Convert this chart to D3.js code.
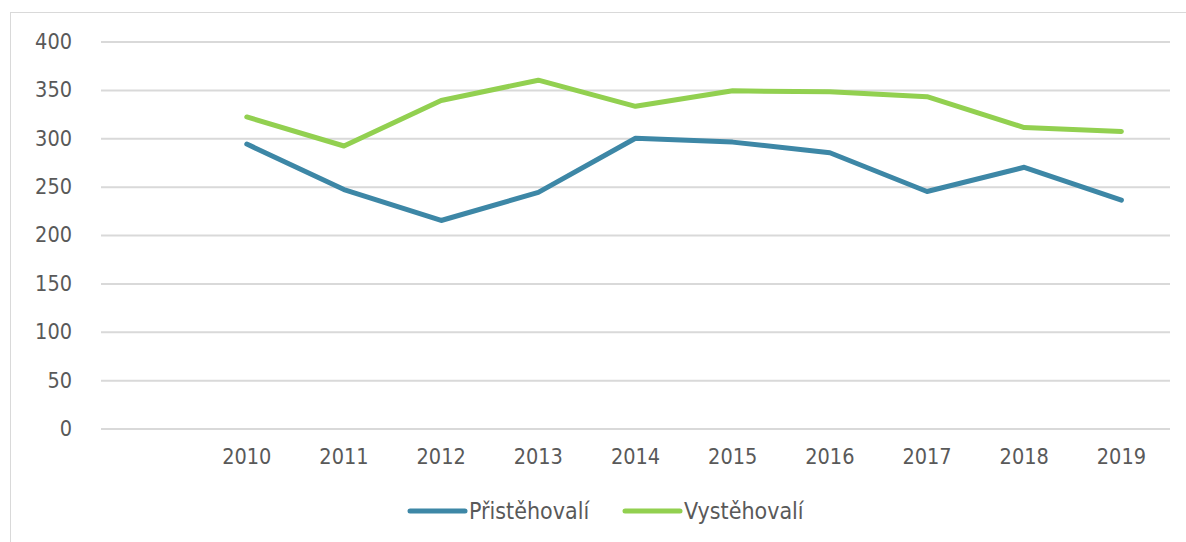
<!DOCTYPE html>
<html>
<head>
<meta charset="utf-8">
<script src="https://cdn.jsdelivr.net/npm/d3@7"></script>
<style>
  body { margin: 0; background: #fff; }
  svg { display: block; }
  text { font-family: "DejaVu Sans Condensed", "DejaVu Sans", sans-serif; }
</style>
</head>
<body>
<svg id="chart"></svg>
<script>
// first slot on the x axis is empty in the original
var years = ["", "2010", "2011", "2012", "2013", "2014", "2015", "2016", "2017", "2018", "2019"];
var prist = [null, 294, 247, 215, 244, 300, 296, 285, 245, 270, 236];
var vyst = [null, 322, 292, 339, 360, 333, 349, 348, 343, 311, 307];
var seriesNames = ["Přistěhovalí", "Vystěhovalí"];
var yTicks = [0, 50, 100, 150, 200, 250, 300, 350, 400];

var colors = ["#3d87a6", "#92d050"];
var font = "'DejaVu Sans Condensed', 'DejaVu Sans', sans-serif";

var screen = { width: 1186, height: 542 };
var svg = d3.select("#chart")
            .attr("width", screen.width)
            .attr("height", screen.height);

var margins = { top: 41.5, left: 101, right: 16, bottom: 113.5 };
var width = screen.width - margins.left - margins.right;
var height = screen.height - margins.top - margins.bottom;

// chart frame
svg.append("rect")
   .attr("x", 10.5).attr("y", 12.5)
   .attr("width", 1200).attr("height", 600)
   .attr("fill", "none")
   .attr("stroke", "#d9d9d9")
   .attr("stroke-width", 1);

var xScale = d3.scaleBand()
               .domain(years)
               .range([0, width]);
var yScale = d3.scaleLinear()
               .domain([0, 400])
               .range([height, 0]);

var plotLand = svg.append("g")
                  .attr("transform", "translate(" + margins.left + "," + margins.top + ")");

// gridlines + y labels
var yAxis = d3.axisLeft(yScale)
              .tickValues(yTicks)
              .tickSize(-width)
              .tickPadding(29);
var yg = plotLand.append("g").call(yAxis).attr("font-family", font);
yg.select(".domain").remove();
yg.selectAll("line").attr("stroke", "#d9d9d9").attr("stroke-width", 2);
yg.selectAll("text").attr("fill", "#595959").style("font-size", "21.5px");

// x labels
var xAxis = d3.axisBottom(xScale).tickSize(0).tickPadding(20);
var xg = plotLand.append("g")
                 .attr("transform", "translate(0," + height + ")")
                 .call(xAxis)
                 .attr("font-family", font);
xg.select(".domain").remove();
xg.selectAll("text").attr("fill", "#595959").style("font-size", "21.5px");

var line = d3.line()
             .defined(function(d) { return d != null; })
             .x(function(d, i) { return xScale(years[i]) + xScale.bandwidth() / 2; })
             .y(function(d) { return yScale(d); });

[prist, vyst].forEach(function(s, k) {
  plotLand.append("path")
          .datum(s)
          .attr("d", line)
          .attr("fill", "none")
          .attr("stroke", colors[k])
          .attr("stroke-width", 5)
          .attr("stroke-linecap", "round")
          .attr("stroke-linejoin", "round");
});

// legend
var legendX = [410, 625];
var legend = svg.append("g").attr("transform", "translate(0,511)");
var items = legend.selectAll("g")
                  .data(seriesNames)
                  .enter()
                  .append("g")
                  .attr("transform", function(d, i) { return "translate(" + legendX[i] + ",0)"; });
items.append("line")
     .attr("x1", 0).attr("x2", 55)
     .attr("stroke", function(d, i) { return colors[i]; })
     .attr("stroke-width", 5)
     .attr("stroke-linecap", "round");
items.append("text")
     .attr("x", 59)
     .attr("y", 8)
     .attr("fill", "#595959")
     .style("font-size", "23px")
     .text(function(d) { return d; });
</script>
</body>
</html>
